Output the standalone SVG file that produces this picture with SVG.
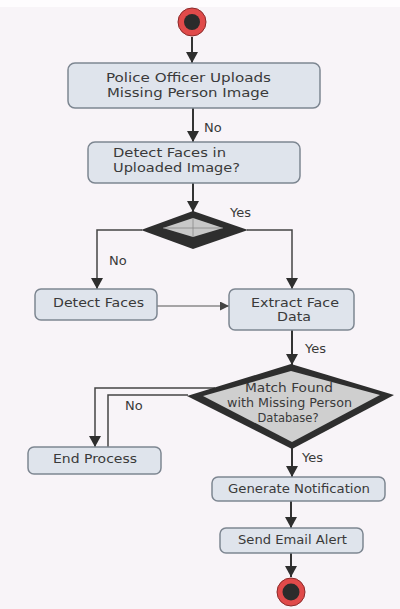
<svg xmlns="http://www.w3.org/2000/svg" width="400" height="609" viewBox="0 0 400 609">
<defs>
<style>
.box{fill:#dfe4ec;stroke:#7d8691;stroke-width:1.5}
.t{font-family:"DejaVu Sans","Open Sans",sans-serif;fill:#3a3a3a;font-size:12px}
.lb{font-size:13px}
.m{text-anchor:middle}
.c{fill:none;stroke:#333;stroke-width:2}
.cl{fill:none;stroke:#444;stroke-width:1.5}
.ct{fill:none;stroke:#555;stroke-width:1.2}
</style>
<marker id="ah" markerUnits="userSpaceOnUse" markerWidth="12" markerHeight="12" refX="11" refY="6" orient="auto">
<path d="M0,0 L11,6 L0,12 z" fill="#2e2e2e"/>
</marker>
<marker id="ahs" markerUnits="userSpaceOnUse" markerWidth="10" markerHeight="10" refX="9" refY="4.5" orient="auto">
<path d="M0,0 L9,4.5 L0,9 z" fill="#444"/>
</marker>
</defs>
<rect width="400" height="609" fill="#f8f4f8"/>
<rect width="400" height="7" fill="#fefcfe"/>

<g id="connectors">
<line class="c" x1="192" y1="37" x2="192" y2="63" marker-end="url(#ah)"/>
<line class="c" x1="193" y1="108" x2="193" y2="142" marker-end="url(#ah)"/>
<line class="c" x1="193" y1="183" x2="193" y2="212" marker-end="url(#ah)"/>
<polyline class="cl" points="142,230 97,230 97,289" marker-end="url(#ah)"/>
<polyline class="cl" points="247,230 292,230 292,289" marker-end="url(#ah)"/>
<line class="ct" x1="157" y1="306" x2="229" y2="306" marker-end="url(#ahs)"/>
<line class="c" x1="292" y1="330" x2="292" y2="365" marker-end="url(#ah)"/>
<polyline class="cl" points="215,388 95,388 95,447" marker-end="url(#ah)"/>
<polyline class="cl" points="188,395 108,395 108,447"/>
<line class="c" x1="292" y1="448" x2="292" y2="477" marker-end="url(#ah)"/>
<line class="c" x1="291" y1="501" x2="291" y2="528" marker-end="url(#ah)"/>
<line class="c" x1="291" y1="553" x2="291" y2="577" marker-end="url(#ah)"/>
<text class="t lb" x="204" y="132">No</text>
<text class="t lb" x="230" y="217">Yes</text>
<text class="t lb" x="109" y="265">No</text>
<text class="t lb" x="305" y="353">Yes</text>
<text class="t lb" x="125" y="410">No</text>
<text class="t lb" x="302" y="462">Yes</text>
</g>

<g id="start">
<circle cx="192" cy="22" r="14" fill="#e04a4a" stroke="#8a2a2a" stroke-width="1"/>
<circle cx="192" cy="22" r="8" fill="#2b2b2b"/>
</g>

<g id="upload">
<rect class="box" x="68" y="63" width="252" height="45" rx="7"/>
<text class="t m" x="188.5" y="81.5" font-size="13" textLength="165" lengthAdjust="spacingAndGlyphs">Police Officer Uploads</text>
<text class="t m" x="188" y="97" font-size="13" textLength="162" lengthAdjust="spacingAndGlyphs">Missing Person Image</text>
</g>

<g id="detect-in-uploaded">
<rect class="box" x="88" y="142" width="212" height="41" rx="7"/>
<text class="t" x="113" y="156.5" font-size="13" textLength="113" lengthAdjust="spacingAndGlyphs">Detect Faces in</text>
<text class="t" x="113" y="172" font-size="13" textLength="127" lengthAdjust="spacingAndGlyphs">Uploaded Image?</text>
</g>

<g id="decision1">
<polygon points="193,211 248,230 193,249 141,230" fill="#2e2e2e"/>
<polygon points="193,218 223,228 193,237 163,228" fill="#c8c8c8"/>
<line x1="163" y1="228" x2="223" y2="228" stroke="#888" stroke-width="0.8"/>
<line x1="193" y1="218" x2="193" y2="237" stroke="#888" stroke-width="0.8"/>
</g>

<g id="detect-faces">
<rect class="box" x="35" y="289" width="122" height="31" rx="6"/>
<text class="t m" x="98.5" y="307" textLength="91" lengthAdjust="spacingAndGlyphs">Detect Faces</text>
</g>

<g id="extract">
<rect class="box" x="229" y="289" width="125" height="41" rx="6"/>
<text class="t m" x="295" y="306.5" textLength="88" lengthAdjust="spacingAndGlyphs">Extract Face</text>
<text class="t m" x="294" y="320.5" textLength="34" lengthAdjust="spacingAndGlyphs">Data</text>
</g>

<g id="decision2">
<polygon points="291,364 394,395 292,449 187,396" fill="#2e2e2e"/>
<polygon points="291,371 380,395 292,442 203,396" fill="#cfcfcf"/>
<text class="t m" x="289" y="392" textLength="88" lengthAdjust="spacingAndGlyphs">Match Found</text>
<text class="t m" x="289.5" y="407" textLength="125" lengthAdjust="spacingAndGlyphs">with Missing Person</text>
<text class="t m" x="288" y="422" textLength="61" lengthAdjust="spacingAndGlyphs">Database?</text>
</g>

<g id="end-process">
<rect class="box" x="28" y="447" width="133" height="27" rx="6"/>
<text class="t m" x="95" y="463" textLength="84" lengthAdjust="spacingAndGlyphs">End Process</text>
</g>

<g id="generate">
<rect class="box" x="212" y="477" width="173" height="24" rx="6"/>
<text class="t m" x="299" y="493" textLength="142" lengthAdjust="spacingAndGlyphs">Generate Notification</text>
</g>

<g id="send-email">
<rect class="box" x="220" y="528" width="143" height="25" rx="6"/>
<text class="t m" x="292.5" y="544" textLength="109" lengthAdjust="spacingAndGlyphs">Send Email Alert</text>
</g>

<g id="end">
<circle cx="291" cy="592" r="14" fill="#e04a4a" stroke="#8a2a2a" stroke-width="1"/>
<circle cx="291" cy="592" r="8.5" fill="#2b2b2b"/>
</g>
</svg>
